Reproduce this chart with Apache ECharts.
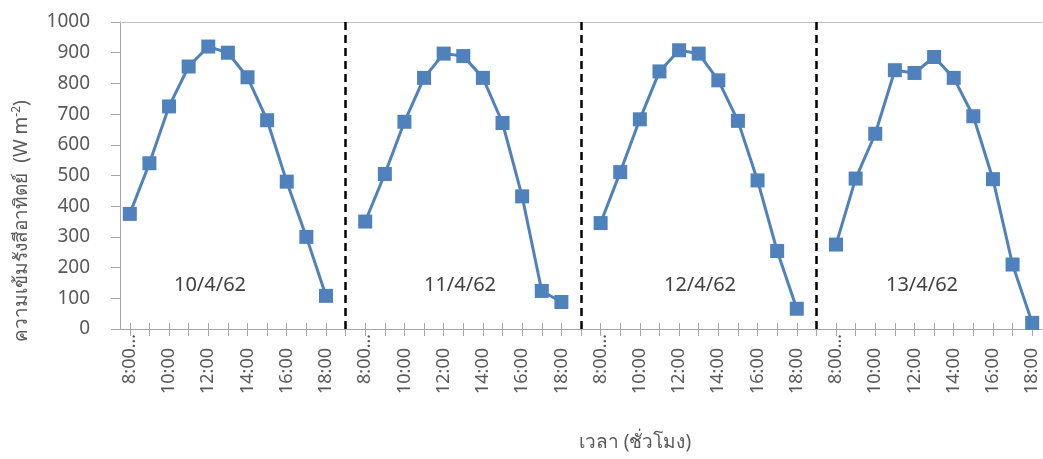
<!DOCTYPE html>
<html>
<head>
<meta charset="utf-8">
<script src="https://cdn.jsdelivr.net/npm/echarts@6/dist/echarts.min.js"></script>
<style>
  html, body { margin: 0; padding: 0; background: #fff; }
  #chart { width: 1043px; height: 459px; }
</style>
</head>
<body>
<div id="chart"></div>
<script>
// Hourly solar irradiance, 08:00-18:00, four days
const hourLabels = ['8:00…', '9:00', '10:00', '11:00', '12:00', '13:00', '14:00', '15:00', '16:00', '17:00', '18:00'];
const dayLabels = ['10/4/62', '11/4/62', '12/4/62', '13/4/62'];
const day1 = [375, 540, 725, 855, 920, 900, 820, 680, 480, 300, 108];
const day2 = [350, 505, 675, 818, 897, 889, 818, 671, 432, 124, 88];
const day3 = [345, 511, 683, 839, 908, 897, 810, 678, 484, 254, 66];
const day4 = [275, 490, 636, 843, 834, 886, 818, 693, 488, 210, 20];
const yTicks = { min: 0, max: 1000, step: 100 };

const days = [day1, day2, day3, day4];

// one category axis holding all days, with an empty slot between consecutive days
const categories = [];
const values = [];
const dividers = [];
days.forEach((d, i) => {
  if (i > 0) {
    dividers.push(categories.length);
    categories.push('');
    values.push(null);
  }
  hourLabels.forEach((h, j) => {
    categories.push(h);
    values.push(d[j]);
  });
});

const FONT = '"Noto Sans", "Open Sans", sans-serif';
const AXIS_GREY = '#a6a6a6';
const TEXT = '#595959';

// day captions placed inside each day's panel
const dayCaptionX = [210, 460, 700, 922];
const dayCaptions = dayLabels.map((t, i) => ({
  type: 'text',
  x: dayCaptionX[i],
  y: 285,
  style: { text: t, fill: '#404040', font: '20px ' + FONT, align: 'center', verticalAlign: 'middle' }
}));

const chart = echarts.init(document.getElementById('chart'), null, { renderer: 'canvas' });
chart.setOption({
  animation: false,
  grid: { left: 120, right: 1, top: 22, bottom: 130, containLabel: false },
  xAxis: [
    {
      type: 'category',
      data: categories,
      position: 'bottom',
      boundaryGap: true,
      axisLine: { show: true, lineStyle: { color: AXIS_GREY, width: 1 } },
      axisTick: { show: true, alignWithLabel: true, interval: 0, length: 7, lineStyle: { color: AXIS_GREY } },
      axisLabel: {
        rotate: 90,
        interval: 1,
        margin: 5,
        color: TEXT,
        fontFamily: FONT,
        fontSize: 18,
        formatter: v => (v.indexOf('…') >= 0 ? '{s|' + v + '}' : '{n|' + v + '}'),
        rich: {
          n: { color: TEXT, fontFamily: FONT, fontSize: 18, padding: [0, 14, 0, 0] },
          s: { color: TEXT, fontFamily: FONT, fontSize: 18 }
        }
      },
      splitLine: { show: false }
    },
    {
      // upper half of the crossing tick marks
      type: 'category',
      data: categories,
      position: 'bottom',
      boundaryGap: true,
      axisLine: { show: false },
      axisTick: { show: true, inside: true, alignWithLabel: true, interval: 0, length: 6, lineStyle: { color: AXIS_GREY } },
      axisLabel: { show: false },
      splitLine: { show: false }
    },
    {
      // top edge of the plot area
      type: 'category',
      data: categories,
      position: 'top',
      boundaryGap: true,
      axisLine: { show: true, lineStyle: { color: '#bfbfbf', width: 1 } },
      axisTick: { show: false },
      axisLabel: { show: false },
      splitLine: { show: false }
    }
  ],
  yAxis: {
    type: 'value',
    min: yTicks.min,
    max: yTicks.max,
    interval: yTicks.step,
    axisLine: { show: true, lineStyle: { color: AXIS_GREY, width: 1 } },
    axisTick: { show: true, length: 9, lineStyle: { color: AXIS_GREY } },
    axisLabel: { color: TEXT, fontFamily: FONT, fontSize: 19, margin: 30, formatter: v => String(v) },
    splitLine: { show: false }
  },
  series: [
    {
      type: 'line',
      xAxisIndex: 0,
      data: values,
      connectNulls: false,
      showAllSymbol: true,
      symbol: 'rect',
      symbolSize: 14,
      lineStyle: { color: '#4f81bd', width: 3 },
      itemStyle: { color: '#4f81bd', borderColor: '#4f81bd', borderWidth: 0 },
      markLine: {
        silent: true,
        symbol: ['none', 'none'],
        label: { show: false },
        lineStyle: { color: '#000', width: 2.5, type: [8, 5] },
        data: dividers.map(i => ({ xAxis: i }))
      }
    }
  ],
  graphic: [
    {
      type: 'text',
      x: 22,
      y: 221,
      rotation: Math.PI / 2,
      style: {
        text: '{t|ความเข้มรังสีอาทิตย์  (W m}{sup|-2}{t|)}',
        align: 'center',
        verticalAlign: 'middle',
        rich: {
          t: { fill: TEXT, font: '19px ' + FONT },
          sup: { fill: TEXT, font: '12px ' + FONT, verticalAlign: 'top', padding: [0, 0, 10, 0] }
        }
      }
    },
    {
      type: 'text',
      x: 635,
      y: 443,
      style: { text: 'เวลา (ชั่วโมง)', fill: TEXT, font: '19px ' + FONT, align: 'center', verticalAlign: 'middle' }
    }
  ].concat(dayCaptions)
});
</script>
</body>
</html>
